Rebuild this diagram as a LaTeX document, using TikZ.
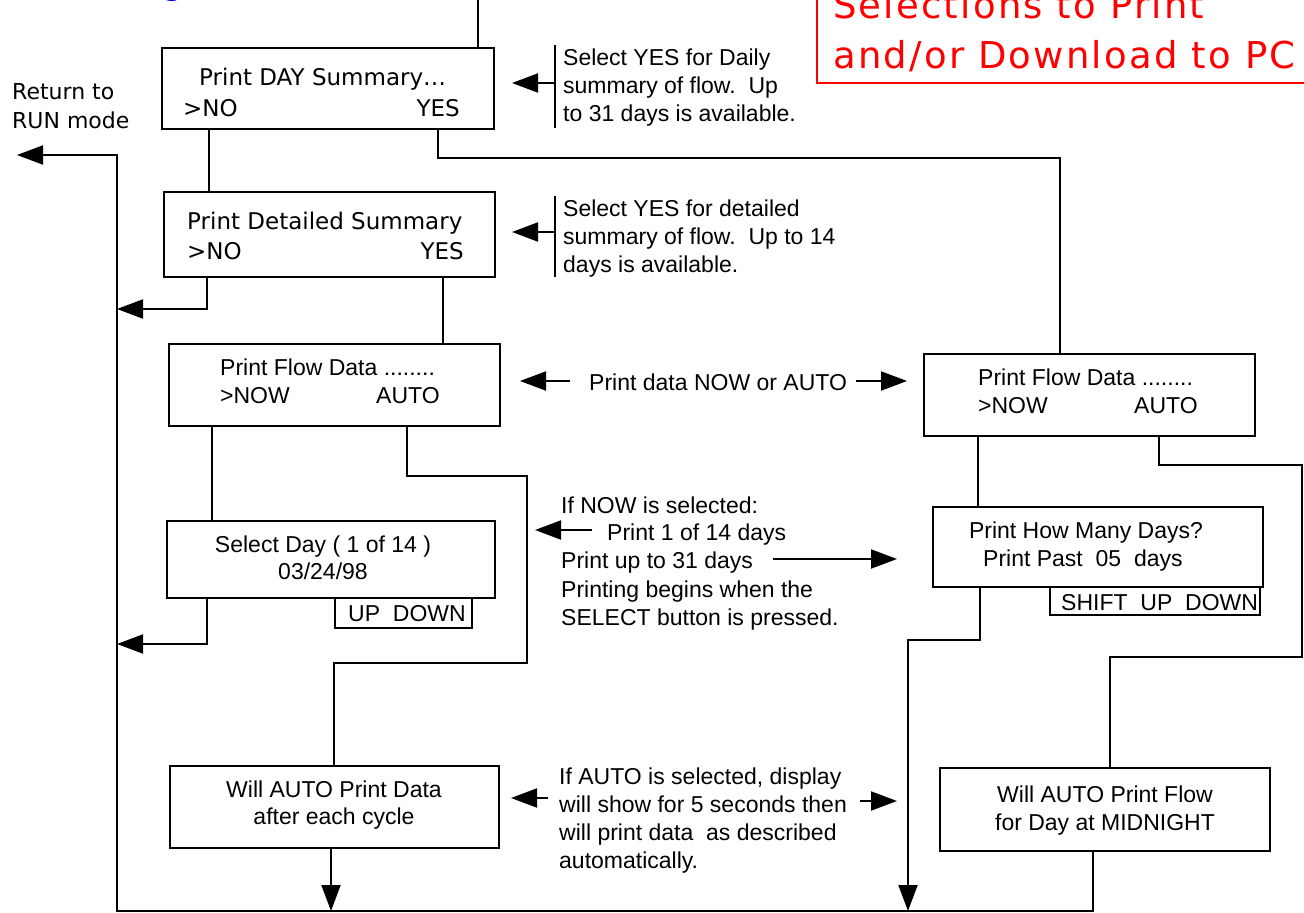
\documentclass[tikz,border=0pt]{standalone}
\usepackage{fontspec}
\setmainfont{Liberation Sans}
\newfontfamily\verd{DejaVu Sans}
\newfontfamily\redfont[LetterSpace=6]{DejaVu Sans}
\usetikzlibrary{arrows.meta}
\definecolor{selred}{RGB}{255,0,0}
\definecolor{ttlblue}{RGB}{0,0,255}
\begin{document}
\frenchspacing
\begin{tikzpicture}[x=1pt,y=-1pt,
  box/.style={draw, line width=2.4pt, inner sep=0pt, anchor=north west},
  wire/.style={line width=2pt},
  arr/.style={wire, -{Triangle[length=26pt,width=19pt]}},
  lbl/.style={inner sep=0pt, anchor=base west, font=\fontsize{23}{28}\selectfont},
  clbl/.style={lbl, anchor=base},
  vlbl/.style={inner sep=0pt, anchor=base west, font=\verd\fontsize{23}{28}\selectfont},
  redtxt/.style={inner sep=0pt, anchor=base west, text=selred, font=\redfont\fontsize{37}{42}\selectfont}]
\useasboundingbox (0,0) rectangle (1304,913);
\clip (0,0) rectangle (1304,913);
\fill[white] (0,0) rectangle (1304,913);

% heading pieces along the top edge
\node[inner sep=0pt, anchor=base west, text=ttlblue, font=\verd\fontsize{34}{40}\selectfont] (ttl) at (162,-6) {g};
\node[draw=selred, line width=2pt, anchor=south west, minimum width=520pt, minimum height=130pt, inner sep=0pt] (sel) at (816,84) {};
\node[redtxt] (sel1) at (833,18) {Selections to Print};
\node[redtxt] (sel2) at (833,68) {and/or Download to PC};

% return label
\node[inner sep=0pt, anchor=base west, font=\verd\fontsize{22}{27}\selectfont] (rt1) at (12,99) {Return to};
\node[inner sep=0pt, anchor=base west, font=\verd\fontsize{22}{27}\selectfont] (rt2) at (12,128) {RUN mode};

% left column of displays
\node[box, minimum width=332pt, minimum height=81pt] (b1) at (161,47) {};
\node[vlbl] (b1a) at (199,85) {Print DAY Summary…};
\node[vlbl] (b1b) at (183,116) {>NO};
\node[vlbl, anchor=base east] (b1c) at (460,116) {YES};

\node[box, minimum width=331pt, minimum height=85pt] (b2) at (163,191) {};
\node[vlbl] (b2a) at (187,229) {Print Detailed Summary};
\node[vlbl] (b2b) at (187,259) {>NO};
\node[vlbl, anchor=base east] (b2c) at (464,259) {YES};

\node[box, minimum width=331pt, minimum height=82pt] (b3) at (168,343) {};
\node[lbl] (b3a) at (220,375) {Print Flow Data ........};
\node[lbl] (b3b) at (220,403) {>NOW};
\node[lbl] (b3c) at (376,403) {AUTO};

\node[box, minimum width=328pt, minimum height=77pt] (b4) at (166,520) {};
\node[clbl] (b4a) at (323,552) {Select Day ( 1 of 14 )};
\node[clbl] (b4b) at (323,579) {03/24/98};
\node[box, minimum width=137pt, minimum height=30pt] (b4k) at (334,597) {};
\node[lbl] (b4ka) at (348,621) {UP\ \ DOWN};

\node[box, minimum width=329pt, minimum height=82pt] (b5) at (169,765) {};
\node[clbl] (b5a) at (334,797) {Will AUTO Print Data};
\node[clbl] (b5b) at (334,824) {after each cycle};

% right column of displays
\node[box, minimum width=331pt, minimum height=82pt] (rf) at (923,353) {};
\node[lbl] (rfa) at (978,385) {Print Flow Data ........};
\node[lbl] (rfb) at (978,413) {>NOW};
\node[lbl] (rfc) at (1134,413) {AUTO};

\node[box, minimum width=330pt, minimum height=80pt] (hm) at (932,506) {};
\node[clbl] (hma) at (1086,538) {Print How Many Days?};
\node[lbl] (hmb) at (983,566) {Print Past\ \ 05\ \ days};
\node[box, minimum width=210pt, minimum height=28pt] (hmk) at (1049,586) {};
\node[lbl] (hmka) at (1061,610) {SHIFT\ \ UP\ \ DOWN};

\node[box, minimum width=330pt, minimum height=83pt] (b6) at (939,767) {};
\node[clbl] (b6a) at (1105,802) {Will AUTO Print Flow};
\node[clbl] (b6b) at (1105,830) {for Day at MIDNIGHT};

% flow lines
\coordinate (top) at (478,-5);
\coordinate (ret) at (17,155);
\draw[wire] (top) -- (b1.north -| 478,0);
\draw[wire] (b1.south -| 209,0) -- (b2.north -| 209,0);
\draw[wire] (b1.south -| 438,0) |- (1060,158) -- (rf.north -| 1060,0);
\draw[wire] (b2.south -| 443,0) -- (b3.north -| 443,0);
\draw[arr] (b2.south -| 207,0) |- (117,309);
\draw[wire] (b3.south -| 212,0) -- (b4.north -| 212,0);
\draw[wire] (b3.south -| 407,0) |- (527,476) |- (334,663) -- (b5.north -| 334,0);
\draw[arr] (b4.south -| 207,0) |- (117,644);
\draw[arr] (b5.south -| 331,0) -- (331,911);
\draw[wire] (rf.south -| 978,0) -- (hm.north -| 978,0);
\draw[wire] (rf.south -| 1159,0) |- (1302,465) |- (1110,657) -- (b6.north -| 1110,0);
\draw[arr] (hm.south -| 980,0) |- (908,640) -- (908,911);
\draw[arr] (b6.south -| 1093,0) |- (117,911) -- (117,155) -- (ret);

% notes beside the displays
\coordinate (a1t) at (555,45);  \coordinate (a1b) at (555,128);
\coordinate (a1s) at (555,83);  \coordinate (a1e) at (512,83);
\draw[wire] (a1t) -- (a1b);
\draw[arr] (a1s) -- (a1e);
\node[lbl] (n1a) at (563,65) {Select YES for Daily};
\node[lbl] (n1b) at (563,93) {summary of flow.\ \ Up};
\node[lbl] (n1c) at (563,121) {to 31 days is available.};

\coordinate (a2t) at (555,196); \coordinate (a2b) at (555,277);
\coordinate (a2s) at (555,232); \coordinate (a2e) at (512,232);
\draw[wire] (a2t) -- (a2b);
\draw[arr] (a2s) -- (a2e);
\node[lbl] (n2a) at (563,216) {Select YES for detailed};
\node[lbl] (n2b) at (563,244) {summary of flow.\ \ Up to 14};
\node[lbl] (n2c) at (563,272) {days is available.};

\coordinate (a3s) at (570,381); \coordinate (a3e) at (520,381);
\coordinate (a3u) at (856,381); \coordinate (a3v) at (907,381);
\draw[arr] (a3s) -- (a3e);
\draw[arr] (a3u) -- (a3v);
\node[lbl] (n3) at (589,390) {Print data NOW or AUTO};

\coordinate (a4s) at (592,530); \coordinate (a4e) at (535,530);
\coordinate (a4u) at (773,559); \coordinate (a4v) at (897,559);
\draw[arr] (a4s) -- (a4e);
\draw[arr] (a4u) -- (a4v);
\node[lbl] (n4a) at (561,513) {If NOW is selected:};
\node[lbl] (n4b) at (607,540) {Print 1 of 14 days};
\node[lbl] (n4c) at (561,568) {Print up to 31 days};
\node[lbl] (n4d) at (561,597) {Printing begins when the};
\node[lbl] (n4e) at (561,625) {SELECT button is pressed.};

\coordinate (a5s) at (548,798); \coordinate (a5e) at (511,798);
\coordinate (a5u) at (860,801); \coordinate (a5v) at (897,801);
\draw[arr] (a5s) -- (a5e);
\draw[arr] (a5u) -- (a5v);
\node[lbl] (n5a) at (559,784) {If AUTO is selected, display};
\node[lbl] (n5b) at (559,812) {will show for 5 seconds then};
\node[lbl] (n5c) at (559,840) {will print data\ \ as described};
\node[lbl] (n5d) at (559,868) {automatically.};
\end{tikzpicture}
\end{document}
